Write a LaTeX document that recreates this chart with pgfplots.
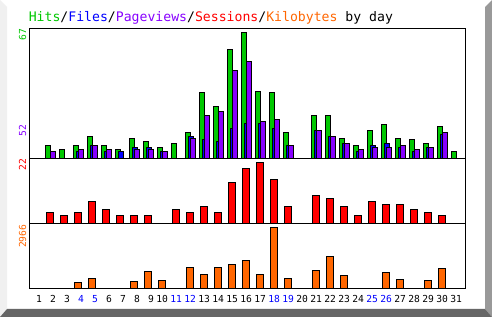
\documentclass[border=0pt]{standalone}
\usepackage{pgfplots}
\pgfplotsset{compat=1.18}
\usepackage{fontspec}
\setmainfont{DejaVu Sans Mono}
\definecolor{chits}{HTML}{00C800}
\definecolor{cfiles}{HTML}{0000FF}
\definecolor{cpages}{HTML}{8800FF}
\definecolor{csess}{HTML}{FF0000}
\definecolor{ckb}{HTML}{FF6600}
\definecolor{bevL}{HTML}{F0F0F0}
\definecolor{bevR}{HTML}{999999}
\definecolor{bevB}{HTML}{666666}
\pgfplotsset{
  dayaxis/.style={scale only axis, width=436.6bp, xmin=0.493, xmax=31.68, ymin=0,
    axis line style={line width=1bp, black}, xtick=\empty, ytick=\empty,
    anchor=south west},
  hb/.style={ybar, bar width=5bp, bar shift=-2bp, fill=chits, draw=black, line width=1bp},
  fb/.style={ybar, bar width=5bp, bar shift=1bp, fill=cfiles, draw=black, line width=1bp},
  pb/.style={ybar, bar width=5bp, bar shift=3bp, fill=cpages, draw=black, line width=1bp},
  sb/.style={ybar, bar width=7bp, bar shift=0bp, fill=csess, draw=black, line width=1bp},
  kb/.style={ybar, bar width=7bp, bar shift=0bp, fill=ckb, draw=black, line width=1bp},
}
\newcommand{\wk}[1]{\textcolor{cfiles}{#1}}
\begin{document}
\begin{tikzpicture}
% background and bevel
\fill[white] (0bp,0bp) rectangle (492bp,317bp);
\fill[bevL] (0bp,317bp) -- (7bp,310bp) -- (7bp,8bp) -- (0bp,0bp) -- cycle;
\fill[bevR] (492bp,317bp) -- (485bp,310bp) -- (485bp,8bp) -- (492bp,0bp) -- cycle;
\fill[bevB] (0bp,0bp) -- (7bp,8bp) -- (485bp,8bp) -- (492bp,0bp) -- cycle;
% title
\node[anchor=base west, inner sep=0pt, font=\fontsize{13.2}{14}\selectfont] at (28.6bp,295bp)
 {\textcolor{chits}{Hits}/\textcolor{cfiles}{Files}/\textcolor{cpages}{Pageviews}/\textcolor{csess}{Sessions}/\textcolor{ckb}{Kilobytes} by day};
% side labels
\begin{scope}[every node/.style={rotate=90, anchor=base east, inner sep=0pt, font=\fontsize{9.7}{10}\selectfont}]
\node[text=chits] at (26bp,288.2bp) {67};
\node[text=cpages] at (26bp,192.5bp) {52};
\node[text=csess] at (26bp,158.2bp) {22};
\node[text=ckb] at (26bp,92.5bp) {2966};
\end{scope}
% top panel
\begin{axis}[dayaxis, at={(29.2bp,158.2bp)}, height=130bp, ymax=69.13]
\addplot[hb] coordinates {(2,7) (3,5) (4,7) (5,12) (6,7) (7,5) (8,11) (9,9) (10,6) (11,8) (12,14) (13,35) (14,28) (15,58) (16,67) (17,36) (18,35) (19,14) (21,23) (22,23) (23,11) (24,7) (25,15) (26,18) (27,11) (28,10) (29,8) (30,17) (31,4)};
\addplot[fb] coordinates {(4,4) (5,7) (6,4) (7,4) (8,6) (9,6) (10,4) (12,12) (13,10) (14,9) (15,16) (16,19) (17,19) (18,16) (19,7) (21,15) (22,12) (23,8) (24,4) (25,7) (26,8) (27,6) (28,4) (29,6) (30,13)};
\addplot[pb] coordinates {(2,4) (4,5) (5,7) (6,5) (8,5) (9,5) (10,4) (12,11) (13,23) (14,25) (15,47) (16,52) (17,20) (18,21) (19,7) (21,15) (22,12) (23,8) (24,5) (25,6) (26,6) (27,7) (28,5) (29,6) (30,14)};
\end{axis}
% sessions
\begin{axis}[dayaxis, at={(29.2bp,93.5bp)}, height=64.7bp, ymax=23.45]
\addplot[sb] coordinates {(2,4) (3,3) (4,4) (5,8) (6,5) (7,3) (8,3) (9,3) (11,5) (12,4) (13,6) (14,4) (15,15) (16,20) (17,22) (18,16) (19,6) (21,10) (22,9) (23,6) (24,3) (25,8) (26,7) (27,7) (28,5) (29,4) (30,3)};
\end{axis}
% kilobytes
\begin{axis}[dayaxis, at={(29.2bp,28.5bp)}, height=65bp, ymax=3176,
  xtick={1,...,31}, major tick length=0pt,
  xticklabels={1,2,3,\wk{4},\wk{5},6,7,8,9,10,\wk{11},\wk{12},13,14,15,16,17,\wk{18},\wk{19},20,21,22,23,24,\wk{25},\wk{26},27,28,29,30,31},
  xticklabel style={anchor=base east, inner sep=0pt, xshift=5.85bp, yshift=-14.2bp, font=\fontsize{9.7}{10}\selectfont}]
\addplot[kb] coordinates {(4,277) (5,489) (8,326) (9,815) (10,375) (12,1010) (13,668) (14,1010) (15,1157) (16,1353) (17,668) (18,2966) (19,473) (21,864) (22,1548) (23,619) (26,766) (27,424) (29,375) (30,962)};
\end{axis}
\end{tikzpicture}
\end{document}
